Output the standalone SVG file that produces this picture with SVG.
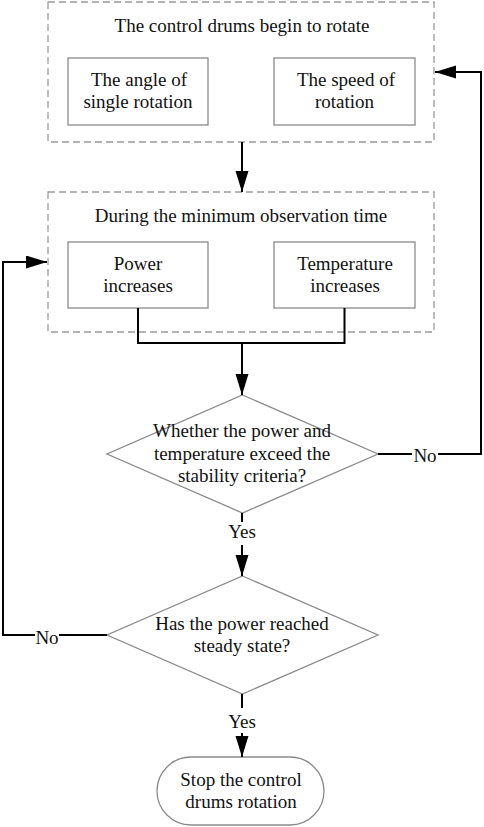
<svg xmlns="http://www.w3.org/2000/svg" width="484" height="827" viewBox="0 0 484 827">
<style>
text{font-family:"Liberation Serif","Times New Roman",serif;font-size:19px;fill:#111;text-anchor:middle}
.group{fill:none;stroke:#9a9a9a;stroke-width:1.3;stroke-dasharray:7,4}
.box{fill:#fff;stroke:#8a8a8a;stroke-width:1.3}
.conn{fill:none;stroke:#000;stroke-width:2}
</style>
<defs>
<marker id="arr" markerUnits="userSpaceOnUse" markerWidth="22" markerHeight="14" refX="21" refY="6.5" orient="auto">
<path d="M0,0 L21,6.5 L0,13 z" fill="#000"/>
</marker>
</defs>
<rect width="484" height="827" fill="#fff"/>
<g id="group-rotate">
<rect class="group" x="48" y="2" width="386" height="140"/>
<text x="242" y="32">The control drums begin to rotate</text>
</g>
<g id="angle">
<rect class="box" x="68" y="58" width="140" height="67"/>
<text x="139" y="86">The angle of</text>
<text x="138" y="108">single rotation</text>
</g>
<g id="speed">
<rect class="box" x="274" y="58" width="141" height="67"/>
<text x="346" y="86">The speed of</text>
<text x="344.5" y="108">rotation</text>
</g>
<g id="group-observe">
<rect class="group" x="48" y="192" width="386" height="140"/>
<text x="241" y="222">During the minimum observation time</text>
</g>
<g id="power">
<rect class="box" x="68" y="242" width="140" height="66"/>
<text x="138" y="270">Power</text>
<text x="138" y="292">increases</text>
</g>
<g id="temperature">
<rect class="box" x="274" y="242" width="141" height="66"/>
<text x="345" y="270">Temperature</text>
<text x="345" y="292">increases</text>
</g>
<g id="decision-criteria">
<path class="box" d="M242.5,395 L378,454 L242.5,513 L107,454 Z"/>
<text x="242" y="437">Whether the power and</text>
<text x="242" y="460">temperature exceed the</text>
<text x="242" y="482">stability criteria?</text>
</g>
<g id="decision-steady">
<path class="box" d="M242.5,576 L378,635 L242.5,694 L107,635 Z"/>
<text x="242" y="630">Has the power reached</text>
<text x="242" y="652">steady state?</text>
</g>
<g id="stop">
<rect class="box" x="157" y="757" width="167" height="68" rx="34" ry="34"/>
<text x="241" y="786">Stop the control</text>
<text x="241" y="808">drums rotation</text>
</g>
<g id="connectors">
<path class="conn" d="M242,142 V192" marker-end="url(#arr)"/>
<path class="conn" d="M138,308 V343 H344.5 V308"/>
<path class="conn" d="M242,343 V395" marker-end="url(#arr)"/>
<path class="conn" d="M378,454 H412"/>
<path class="conn" d="M438,454 H481 V72 H435" marker-end="url(#arr)"/>
<text x="425" y="462">No</text>
<path class="conn" d="M242,513 V522"/>
<text x="242" y="538">Yes</text>
<path class="conn" d="M242,545 V576" marker-end="url(#arr)"/>
<path class="conn" d="M107,635 H59"/>
<path class="conn" d="M35,635 H3 V262 H47" marker-end="url(#arr)"/>
<text x="47" y="644">No</text>
<path class="conn" d="M242,694 V708"/>
<text x="242" y="728">Yes</text>
<path class="conn" d="M242,733 V757" marker-end="url(#arr)"/>
</g>
</svg>
